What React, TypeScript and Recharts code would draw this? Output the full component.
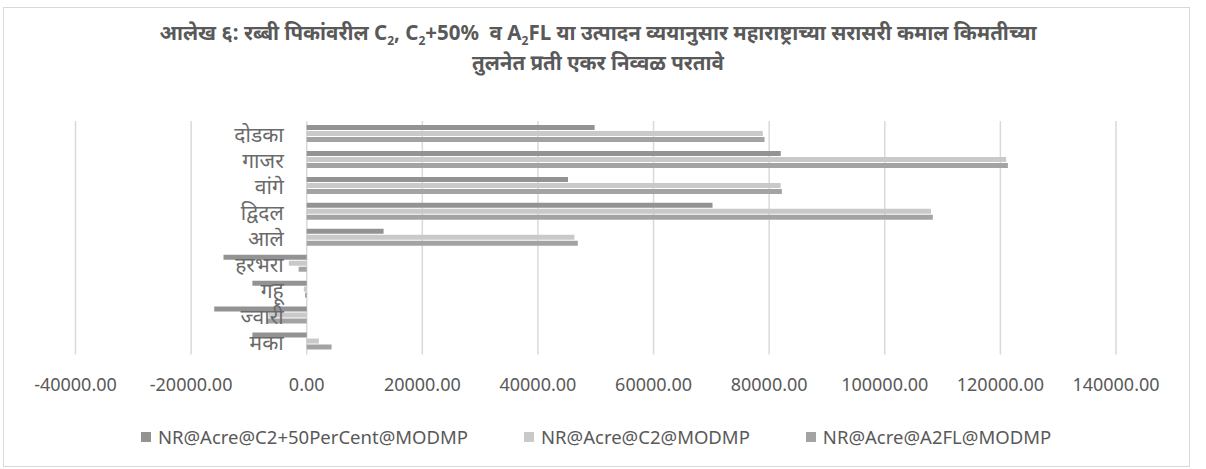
import { Bar, BarChart, CartesianGrid, XAxis, YAxis } from "recharts";

const crops = ["दोडका", "गाजर", "वांगे", "द्विदल", "आले", "हरभरा", "गहू", "ज्वारी", "मका"];
const nrC2Plus50 = [49800, 82000, 45200, 70200, 13300, -14400, -9400, -16000, -9400];
const nrC2 = [78900, 121000, 82000, 108000, 46300, -3100, -500, -6600, 2100];
const nrA2FL = [79200, 121300, 82200, 108300, 46900, -1400, -300, -6900, 4300];
const xTicks = [-40000, -20000, 0, 20000, 40000, 60000, 80000, 100000, 120000, 140000];

const SERIES = [
  { key: "c2p50", name: "NR@Acre@C2+50PerCent@MODMP", color: "#939393", values: nrC2Plus50 },
  { key: "c2", name: "NR@Acre@C2@MODMP", color: "#c9c9c9", values: nrC2 },
  { key: "a2fl", name: "NR@Acre@A2FL@MODMP", color: "#a3a3a3", values: nrA2FL },
];

const W = 1206;
const H = 469;
const PLOT_LEFT = 75.5;
const PLOT_RIGHT = 1116;
const PLOT_TOP = 121;
const PLOT_BOTTOM = 354.5;
const X_AXIS_H = 30;
const Y_AXIS_W = 1;
const X_MIN = xTicks[0];
const X_MAX = xTicks[xTicks.length - 1];
const ZERO_X = PLOT_LEFT + ((PLOT_RIGHT - PLOT_LEFT) * (0 - X_MIN)) / (X_MAX - X_MIN);

const FONT = '"Noto Sans", "Noto Sans Devanagari", "Lohit Devanagari", sans-serif';
const TEXT = "#595959";
const subStyle = { fontSize: 12, lineHeight: 0 };

function renderCropTick(props: any) {
  const { y, payload } = props;
  return (
    <text
      key={payload.value}
      x={ZERO_X - 23}
      y={y}
      textAnchor="end"
      dominantBaseline="central"
      fontSize={21}
      fill="#6a6a6a"
      fontFamily={FONT}
    >
      {payload.value}
    </text>
  );
}

export default function App() {
  const rows = crops.map((c, i) => {
    const r: Record<string, string | number> = { crop: c };
    SERIES.forEach((s) => (r[s.key] = s.values[i]));
    return r;
  });

  return (
    <div style={{ position: "absolute", left: 0, top: 0, width: W, height: H, background: "#fff", fontFamily: FONT }}>
      <div
        style={{
          position: "absolute",
          left: 3,
          top: 7,
          width: 1187,
          height: 460,
          border: "1.5px solid #d9d9d9",
          boxSizing: "border-box",
        }}
      />
      <div
        style={{
          position: "absolute",
          left: 0,
          top: 17,
          width: W - 10,
          textAlign: "center",
          color: TEXT,
          fontWeight: 700,
          fontSize: 20.5,
          lineHeight: "30px",
        }}
      >
        <div>
          आलेख ६: रब्बी पिकांवरील C<sub style={subStyle}>2</sub>, C<sub style={subStyle}>2</sub>+50%&nbsp; व A
          <sub style={subStyle}>2</sub>FL या उत्पादन व्ययानुसार महाराष्ट्राच्या सरासरी कमाल किमतीच्या
        </div>
        <div>तुलनेत प्रती एकर निव्वळ परतावे</div>
      </div>
      <div style={{ position: "absolute", left: 0, top: 0 }}>
        <BarChart
          width={W}
          height={H}
          data={rows}
          layout="vertical"
          margin={{
            top: PLOT_TOP,
            right: W - PLOT_RIGHT,
            left: PLOT_LEFT - Y_AXIS_W,
            bottom: H - PLOT_BOTTOM - X_AXIS_H,
          }}
          barSize={5}
          barGap={1}
        >
          <CartesianGrid horizontal={false} stroke="#d9d9d9" strokeWidth={1.5} />
          <XAxis
            type="number"
            domain={[X_MIN, X_MAX]}
            ticks={xTicks}
            tickFormatter={(v: number) => v.toFixed(2)}
            axisLine={false}
            tickLine={false}
            tickSize={0}
            tickMargin={24}
            height={X_AXIS_H}
            tick={{ fill: TEXT, fontSize: 18, fontFamily: FONT }}
            interval={0}
          />
          <YAxis
            type="category"
            dataKey="crop"
            width={Y_AXIS_W}
            axisLine={false}
            tickLine={false}
            tick={renderCropTick}
            interval={0}
          />
          {SERIES.map((s) => (
            <Bar key={s.key} dataKey={s.key} name={s.name} fill={s.color} isAnimationActive={false} />
          ))}
        </BarChart>
      </div>
      <div
        style={{
          position: "absolute",
          left: 0,
          top: 424,
          width: 1192,
          display: "flex",
          justifyContent: "center",
          gap: 56,
          color: TEXT,
          fontSize: 18.5,
          lineHeight: "26px",
        }}
      >
        {SERIES.map((s) => (
          <div key={s.key} style={{ display: "flex", alignItems: "center" }}>
            <span style={{ width: 10, height: 10, background: s.color, marginRight: 7, display: "inline-block" }} />
            <span>{s.name}</span>
          </div>
        ))}
      </div>
    </div>
  );
}
